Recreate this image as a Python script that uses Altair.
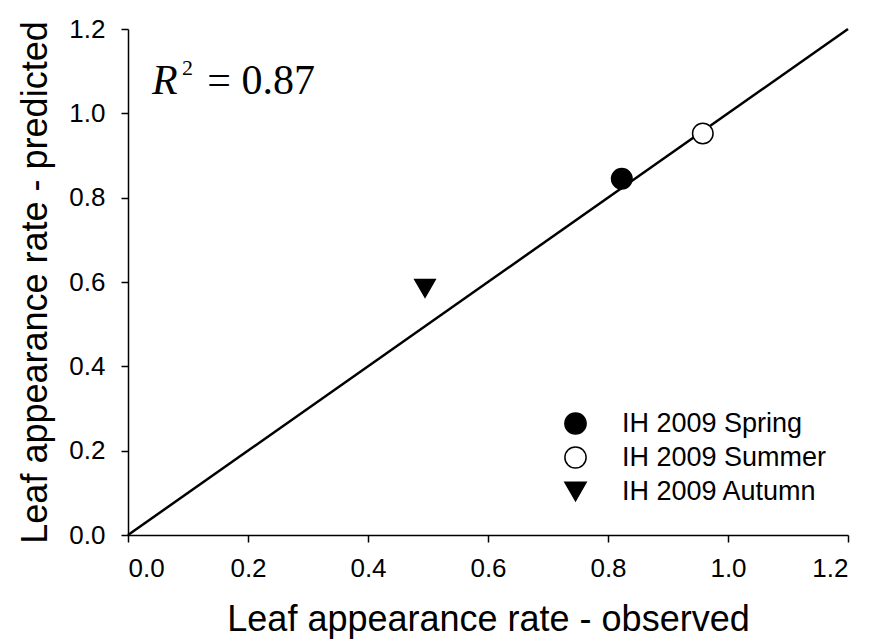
import altair as alt
import pandas as pd

series = ["IH 2009 Spring", "IH 2009 Summer", "IH 2009 Autumn"]
observed = [0.823, 0.958, 0.495]
predicted = [0.845, 0.952, 0.585]
shapes = ["circle", "circle", "triangle-down"]
fills = ["black", "white", "black"]
strokes = ["black", "black", "black"]

line_x = [0.0, 1.2]
line_y = [0.0, 1.2]

ticks = [0.0, 0.2, 0.4, 0.6, 0.8, 1.0, 1.2]

pts = pd.DataFrame({"series": series, "obs": observed, "pred": predicted})
ln = pd.DataFrame({"x": line_x, "y": line_y})

FONT = "Liberation Sans"
SERIF = "Liberation Serif"

xscale = alt.Scale(domain=[0, 1.2], nice=False, zero=False)
yscale = alt.Scale(domain=[0, 1.2], nice=False, zero=False)

xaxis = alt.Axis(title="Leaf appearance rate - observed", values=ticks, format=".1f",
                 grid=False, domainColor="black", domainWidth=1.5, tickColor="black",
                 tickWidth=1.5, tickSize=7, labelFontSize=26, labelFont=FONT,
                 labelColor="black", labelPadding=13, titleFont=FONT, titleFontSize=36,
                 titleFontWeight="normal", titleColor="black", titlePadding=21)
yaxis = alt.Axis(title="Leaf appearance rate - predicted", values=ticks, format=".1f",
                 grid=False, domainColor="black", domainWidth=1.5, tickColor="black",
                 tickWidth=1.5, tickSize=7, labelFontSize=26, labelFont=FONT,
                 labelColor="black", labelPadding=16, titleFont=FONT, titleFontSize=36,
                 titleFontWeight="normal", titleColor="black", titlePadding=14)

line = alt.Chart(ln).mark_line(color="black", strokeWidth=2.5).encode(
    x=alt.X("x:Q", scale=xscale, axis=xaxis),
    y=alt.Y("y:Q", scale=yscale, axis=yaxis),
)

points = alt.Chart(pts).mark_point(size=420, strokeWidth=1.5, opacity=1).encode(
    x=alt.X("obs:Q", scale=xscale),
    y=alt.Y("pred:Q", scale=yscale),
    shape=alt.Shape("series:N", scale=alt.Scale(domain=series, range=shapes),
                    legend=alt.Legend(title=None, orient="none", legendX=434, legendY=381,
                                      labelFontSize=27, labelFont=FONT, labelColor="black",
                                      labelLimit=400, symbolSize=450, labelOffset=33,
                                      rowPadding=5, symbolStrokeWidth=1.5,
                                      symbolOpacity=1, padding=0)),
    fill=alt.Fill("series:N", scale=alt.Scale(domain=series, range=fills), legend=None),
    stroke=alt.Stroke("series:N", scale=alt.Scale(domain=series, range=strokes), legend=None),
)

r_lbl = pd.DataFrame({"x": [0.04], "y": [1.046], "t": ["R"]})
sup_lbl = pd.DataFrame({"x": [0.09], "y": [1.09], "t": ["2"]})
val_lbl = pd.DataFrame({"x": [0.132], "y": [1.046], "t": ["= 0.87"]})

r_text = alt.Chart(r_lbl).mark_text(font=SERIF, fontSize=42, fontStyle="italic",
                                    align="left", baseline="alphabetic", color="black").encode(
    x=alt.X("x:Q", scale=xscale), y=alt.Y("y:Q", scale=yscale), text="t:N")
sup_text = alt.Chart(sup_lbl).mark_text(font=SERIF, fontSize=22, align="left",
                                        baseline="alphabetic", color="black").encode(
    x=alt.X("x:Q", scale=xscale), y=alt.Y("y:Q", scale=yscale), text="t:N")
val_text = alt.Chart(val_lbl).mark_text(font=SERIF, fontSize=42, align="left",
                                        baseline="alphabetic", color="black").encode(
    x=alt.X("x:Q", scale=xscale), y=alt.Y("y:Q", scale=yscale), text="t:N")

chart = alt.layer(line, points, r_text, sup_text, val_text).properties(
    width=720, height=506,
    autosize=alt.AutoSizeParams(type="none"),
    padding={"left": 128, "top": 29, "right": 23, "bottom": 108},
    background="white",
).configure_view(stroke=None)

chart.save("out.html", embed_options={"renderer": "svg", "actions": False})
